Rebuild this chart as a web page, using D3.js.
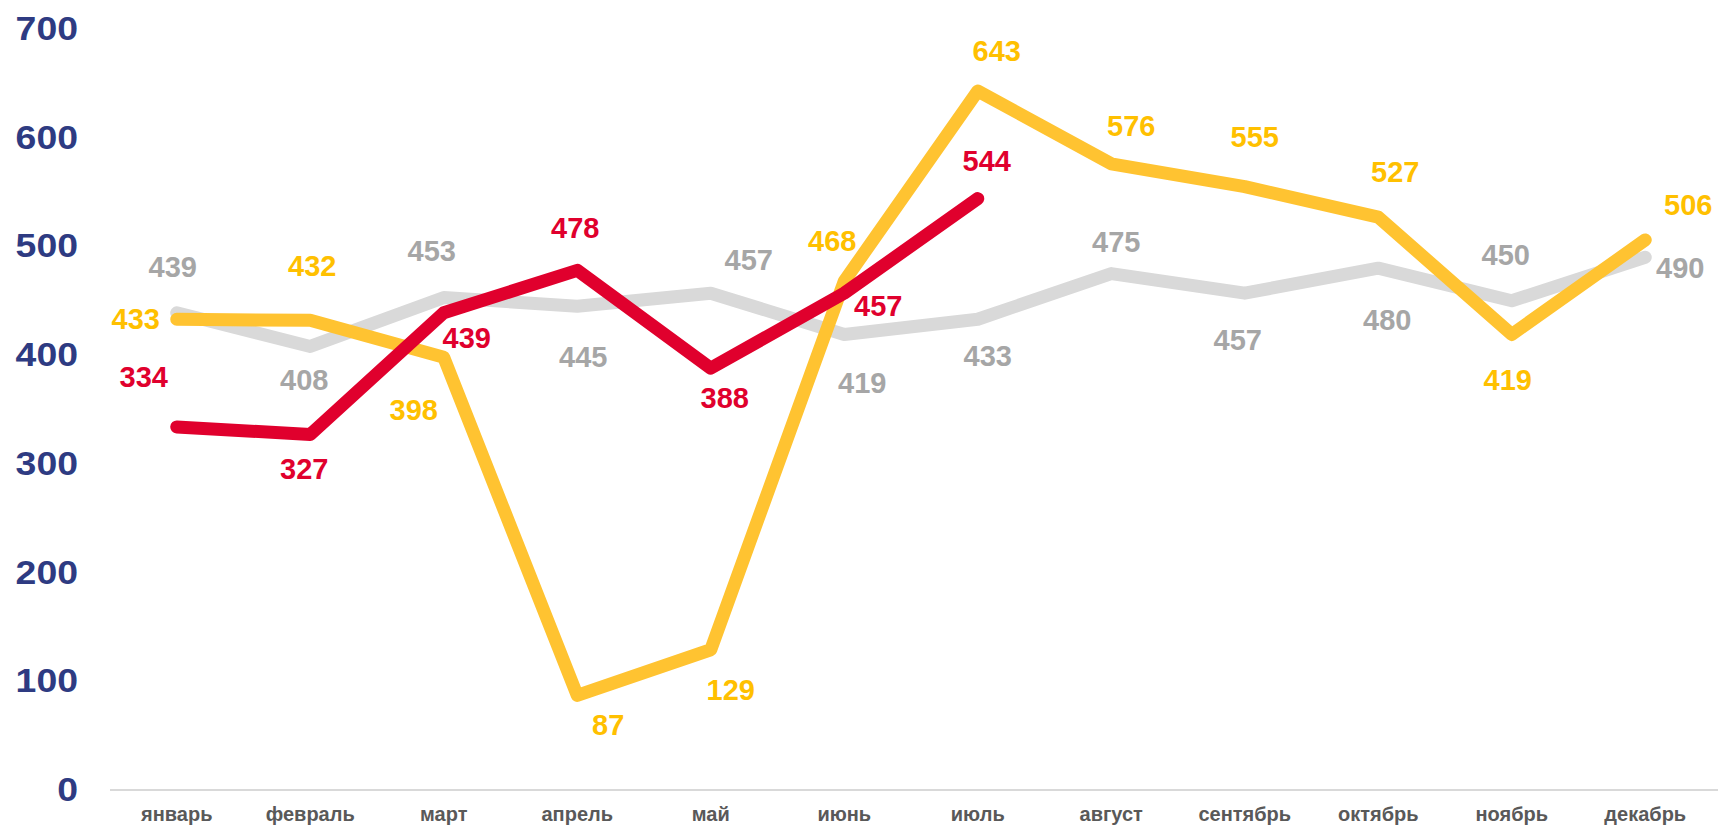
<!DOCTYPE html>
<html>
<head>
<meta charset="utf-8">
<script src="https://cdnjs.cloudflare.com/ajax/libs/d3/7.8.5/d3.min.js"></script>
<style>
    body { margin: 0; background: #fff; }
    text { font-family: "Liberation Sans", Arial, sans-serif; font-weight: bold; }
</style>
</head>
<body>
<div class="chart"></div>
<script>
var months = ["январь", "февраль", "март", "апрель", "май", "июнь",
    "июль", "август", "сентябрь", "октябрь", "ноябрь", "декабрь"];

var grayValues = [439, 408, 453, 445, 457, 419, 433, 475, 457, 480, 450, 490];
var yellowValues = [433, 432, 398, 87, 129, 468, 643, 576, 555, 527, 419, 506];
var redValues = [334, 327, 439, 478, 388, 457, 544];

var yTicks = [0, 100, 200, 300, 400, 500, 600, 700];

var svgWidth = 1718;
var svgHeight = 826;

var svg = d3.select(".chart")
    .append("svg")
    .attr("width", svgWidth)
    .attr("height", svgHeight);

var xScale = d3.scaleBand()
    .domain(months)
    .range([110, 1712])
    .padding(0);

var yScale = d3.scaleLinear()
    .domain([0, 700])
    .range([790, 29]);

var xPos = function(i) { return xScale(months[i]) + xScale.bandwidth() / 2; };

// y axis labels (wide digits like the original)
var leftAxis = d3.axisLeft(yScale).tickValues(yTicks).tickSize(0).tickPadding(0);
var yAxis = svg.append("g")
    .attr("transform", "translate(78,0)")
    .call(leftAxis);
yAxis.select(".domain").remove();
yAxis.selectAll("text")
    .attr("fill", "#2E3B82")
    .attr("font-size", "33px")
    .attr("font-family", "Liberation Sans, Arial, sans-serif")
    .attr("font-weight", "bold")
    .attr("textLength", function(d) { return String(d).length * 20.8; })
    .attr("lengthAdjust", "spacingAndGlyphs");

// x axis
svg.append("line")
    .attr("x1", xScale.range()[0])
    .attr("x2", svgWidth)
    .attr("y1", yScale(0))
    .attr("y2", yScale(0))
    .attr("stroke", "#D9D9D9")
    .attr("stroke-width", 2);

var bottomAxis = d3.axisBottom(xScale).tickSize(0).tickPadding(0);
var xAxis = svg.append("g")
    .attr("transform", "translate(0,807)")
    .call(bottomAxis);
xAxis.select(".domain").remove();
xAxis.selectAll("text")
    .attr("fill", "#595959")
    .attr("font-size", "20px")
    .attr("font-family", "Liberation Sans, Arial, sans-serif")
    .attr("font-weight", "bold");

// label offsets (label centre relative to point)
var grayOffsets = [[-4, -46], [-6, 33], [-12, -47], [6, 51], [38, -33], [18, 48],
    [10, 37], [5, -32], [-7, 47], [9, 52], [-6, -46], [35, 11]];
var yellowOffsets = [[-41, 0], [2, -55], [-30, 53], [31, 29], [20, 40], [-12, -40],
    [19, -40], [20, -38], [10, -50], [17, -45], [-4, 45], [43, -35]];
var redOffsets = [[-33, -50], [-6, 34], [23, 25], [-2, -42], [14, 30], [34, 13], [9, -38]];

var series = [
    { values: grayValues, line: "#D9D9D9", label: "#A6A6A6", offsets: grayOffsets },
    { values: yellowValues, line: "#FFC331", label: "#FFC000", offsets: yellowOffsets },
    { values: redValues, line: "#E0002D", label: "#E0002D", offsets: redOffsets }
];

var lineGen = d3.line()
    .x(function(d, i) { return xPos(i); })
    .y(function(d) { return yScale(d); });

series.forEach(function(s) {
    svg.append("path")
        .datum(s.values)
        .attr("d", lineGen)
        .attr("fill", "none")
        .attr("stroke", s.line)
        .attr("stroke-width", 13)
        .attr("stroke-linecap", "round")
        .attr("stroke-linejoin", "round");
});

series.forEach(function(s) {
    svg.append("g")
        .selectAll("text")
        .data(s.values)
        .enter()
        .append("text")
        .attr("x", function(d, i) { return xPos(i) + s.offsets[i][0]; })
        .attr("y", function(d, i) { return yScale(d) + s.offsets[i][1]; })
        .attr("dy", "0.35em")
        .attr("text-anchor", "middle")
        .attr("font-size", "29px")
        .attr("fill", s.label)
        .text(function(d) { return d; });
});
</script>
</body>
</html>
